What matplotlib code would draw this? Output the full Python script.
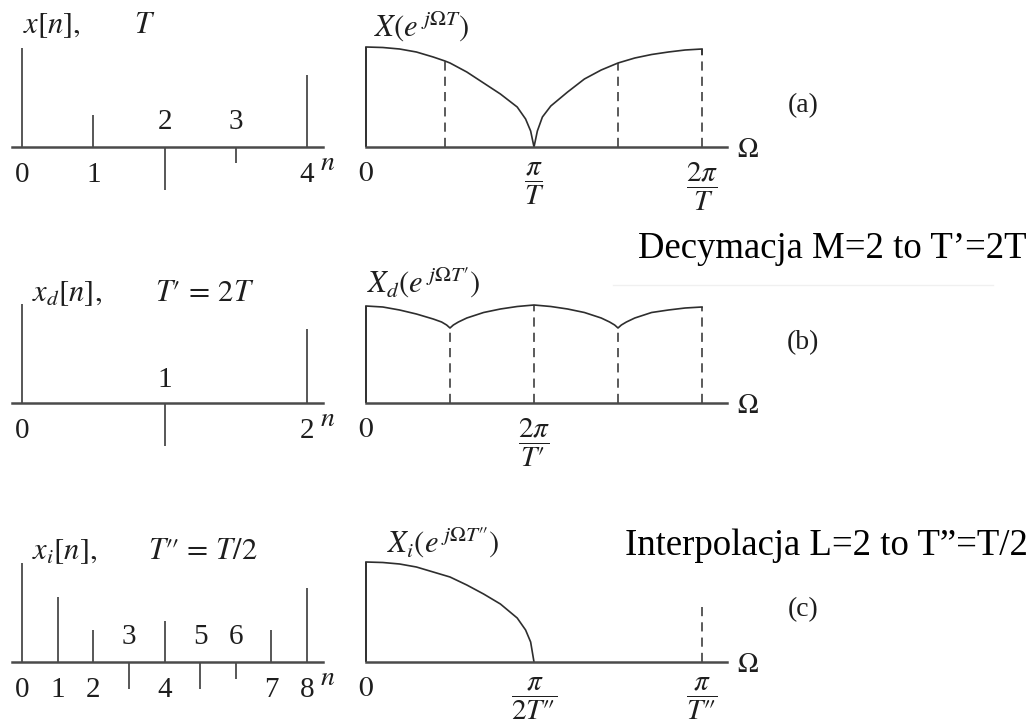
import matplotlib
matplotlib.use("Agg")
import matplotlib.pyplot as plt

plt.rcParams["mathtext.fontset"] = "stix"
plt.rcParams["font.family"] = ["Liberation Serif", "DejaVu Serif"]

# ---------------- data ----------------
# (a) original sequence and its spectrum
n_a = [0, 1, 2, 3, 4]
x_a = [0.99, 0.32, -0.43, -0.16, 0.72]
omega_a = [0, 0.1, 0.2, 0.3, 0.4, 0.47, 0.5, 0.6, 0.7, 0.8, 0.9, 0.95, 0.98, 1.0,
           1.0, 1.02, 1.05, 1.1, 1.2, 1.3, 1.4, 1.5, 1.6, 1.7, 1.8, 1.9, 2.0]
mag_a = [1.00, 0.995, 0.98, 0.95, 0.90, 0.86, 0.84, 0.75, 0.64, 0.53, 0.40, 0.28, 0.16, 0.0,
         0.0, 0.16, 0.30, 0.41, 0.55, 0.68, 0.77, 0.84, 0.89, 0.925, 0.95, 0.97, 0.98]
dash_a = [0.47, 1.5, 2.0]
ticks_a = [0, 1, 2]
ticklabels_a = [r"$0$", r"$\dfrac{\pi}{T}$", r"$\dfrac{2\pi}{T}$"]

# (b) decimated sequence (M = 2) and its spectrum
n_b = [0, 1, 2]
x_b = [0.99, -0.43, 0.74]
omega_b = [0, 0.1, 0.2, 0.3, 0.4, 0.45, 0.48, 0.5, 0.52, 0.55, 0.6, 0.7, 0.8, 0.9, 1.0,
           1.1, 1.2, 1.3, 1.4, 1.45, 1.48, 1.5, 1.52, 1.55, 1.6, 1.7, 1.8, 1.9, 2.0]
mag_b = [0.97, 0.96, 0.93, 0.89, 0.84, 0.81, 0.78, 0.75, 0.78, 0.81, 0.85, 0.905, 0.94, 0.965, 0.98,
         0.965, 0.94, 0.905, 0.85, 0.81, 0.78, 0.75, 0.78, 0.81, 0.85, 0.905, 0.93, 0.95, 0.96]
dash_b = [0.5, 1.0, 1.5, 2.0]
ticks_b = [0, 1]
ticklabels_b = [r"$0$", r"$\dfrac{2\pi}{T\prime}$"]

# (c) interpolated sequence (L = 2) and its spectrum
n_c = [0, 1, 2, 3, 4, 5, 6, 7, 8]
x_c = [0.99, 0.65, 0.32, -0.27, 0.41, -0.27, -0.17, 0.32, 0.74]
omega_c = [0, 0.1, 0.2, 0.3, 0.4, 0.5, 0.6, 0.7, 0.8, 0.9, 0.95, 0.98, 1.0]
mag_c = [1.00, 0.995, 0.98, 0.95, 0.90, 0.85, 0.77, 0.68, 0.58, 0.44, 0.32, 0.20, 0.0]
dash_c = [2.0]
dash_c_height = [0.56]
ticks_c = [0, 1, 2]
ticklabels_c = [r"$0$", r"$\dfrac{\pi}{2T\prime\!\prime}$", r"$\dfrac{\pi}{T\prime\!\prime}$"]

# ---------------- layout helpers ----------------
W, H = 1034, 724
fig = plt.figure(figsize=(W / 100, H / 100), dpi=100)
fig.patch.set_facecolor("white")

AXIS_C = "#4a4a4a"
LINE_C = "#2e2e2e"
TEXT_C = "#1e1e1e"


def panel(left, right, x0, sx, base, sy=100.0):
    """Axes whose data origin sits at pixel (x0, base), sx px per x-unit, sy px per y-unit."""
    top, bottom = base - 140, base + 75
    ax = fig.add_axes([left / W, 1 - bottom / H, (right - left) / W, (bottom - top) / H])
    ax.set_xlim((left - x0) / sx, (right - x0) / sx)
    ax.set_ylim((base - bottom) / sy, (base - top) / sy)
    ax.axis("off")
    ax.axhline(0, color=AXIS_C, lw=1.8, clip_on=False, zorder=3)
    return ax


def ftext(px, py, s, **kw):
    kw.setdefault("color", TEXT_C)
    fig.text(px / W, 1 - py / H, s, **kw)


def stem_panel(ax, n, x, above_off=0.12, below_off=0.15):
    ax.vlines(n, 0, x, color=AXIS_C, lw=1.3, clip_on=False)
    for ni, xi in zip(n, x):
        if xi < 0:
            ax.text(ni, above_off, f"{ni}", ha="center", va="bottom", fontsize=21, color=TEXT_C)
        else:
            ax.text(ni, -below_off, f"{ni}", ha="center", va="top", fontsize=21, color=TEXT_C)
    ax.annotate(r"$n$", xy=(1, 0), xycoords=("axes fraction", "data"),
                xytext=(3.5, -12), textcoords="offset points",
                ha="center", va="center", fontsize=20, color=TEXT_C)


def spectrum_panel(ax, om, mag, ticks, labels):
    ax.plot(om, mag, color=LINE_C, lw=1.2, clip_on=False, solid_joinstyle="round")
    ax.vlines(om[0], 0, mag[0], color=LINE_C, lw=1.4, clip_on=False)
    for t, lab in zip(ticks, labels):
        ax.text(t, -0.14, lab, ha="center", va="top", fontsize=21, color=TEXT_C)
    ax.annotate(r"$\Omega$", xy=(1, 0), xycoords=("axes fraction", "data"),
                xytext=(15, -2.5), textcoords="offset points",
                ha="center", va="center", fontsize=20, color=TEXT_C)


def dashed(ax, xs, hs):
    for xv, hv in zip(xs, hs):
        ax.plot([xv, xv], [0, hv], color=LINE_C, lw=1.1, dashes=(6, 4), clip_on=False)


def interp(xs, ys, xv):
    for i in range(len(xs) - 1):
        if xs[i] <= xv <= xs[i + 1] and xs[i + 1] > xs[i]:
            f = (xv - xs[i]) / (xs[i + 1] - xs[i])
            return ys[i] + f * (ys[i + 1] - ys[i])
    return ys[-1]


# ---------------- row (a) ----------------
axl = panel(12, 323, 22, 71.25, 147)
stem_panel(axl, n_a, x_a)
axr = panel(366, 727, 366, 168, 147)
spectrum_panel(axr, omega_a, mag_a, ticks_a, ticklabels_a)
dashed(axr, dash_a, [interp(omega_a, mag_a, d) for d in dash_a])
axr.vlines(omega_a[-1], mag_a[-1] - 0.06, mag_a[-1], color=LINE_C, lw=1.1)

ftext(23, 33, r"$x[n],$", fontsize=22, va="baseline")
ftext(134, 33, r"$T$", fontsize=22, va="baseline")
ftext(374, 37, r"$X(e^{\;j\Omega T})$", fontsize=22, va="baseline")
ftext(803, 106, "(a)", fontsize=20, ha="center", va="center")

# ---------------- row (b) ----------------
axl = panel(12, 323, 22, 142.5, 403)
stem_panel(axl, n_b, x_b, above_off=0.10)
axr = panel(366, 727, 366, 168, 403)
spectrum_panel(axr, omega_b, mag_b, ticks_b, ticklabels_b)
dashed(axr, dash_b, [interp(omega_b, mag_b, d) for d in dash_b])

ftext(32, 301, r"$x_d[n],$", fontsize=22, va="baseline")
ftext(155, 301, r"$T\prime \,=\, 2T$", fontsize=22, va="baseline")
ftext(367, 293, r"$X_d(e^{\;j\Omega T\prime})$", fontsize=22, va="baseline")
ftext(803, 343, "(b)", fontsize=20, ha="center", va="center")
ftext(638, 258, "Decymacja M=2 to T\u2019=2T", fontsize=26.5, va="baseline", color="black")
fig.add_artist(plt.Line2D([613 / W, 993 / W], [1 - 285 / H, 1 - 285 / H],
                          color="#f0f0f0", lw=1.0))

# ---------------- row (c) ----------------
axl = panel(12, 323, 22, 35.625, 662)
stem_panel(axl, n_c, x_c)
axr = panel(366, 727, 366, 168, 662)
spectrum_panel(axr, omega_c, mag_c, ticks_c, ticklabels_c)
dashed(axr, dash_c, dash_c_height)

ftext(32, 559, r"$x_i[n],$", fontsize=22, va="baseline")
ftext(148, 559, r"$T\prime\!\prime \,=\, T/2$", fontsize=22, va="baseline")
ftext(387, 553, r"$X_i(e^{\;j\Omega T\prime\!\prime})$", fontsize=22, va="baseline")
ftext(803, 610, "(c)", fontsize=20, ha="center", va="center")
ftext(625, 555, "Interpolacja L=2 to T\u201d=T/2", fontsize=26.5, va="baseline", color="black")

fig.savefig("out.png", dpi=100, facecolor="white")
